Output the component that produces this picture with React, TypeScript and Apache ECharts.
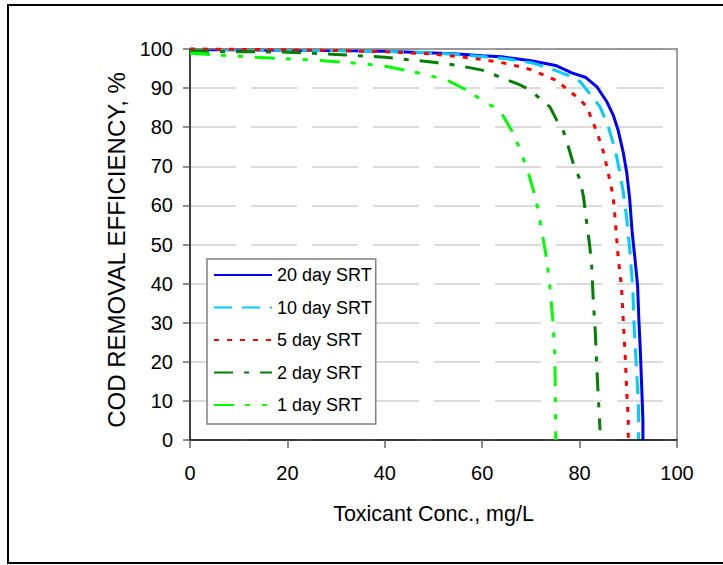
import React, { useEffect, useRef } from "react";
import * as echarts from "echarts";

const seriesNames = ["20 day SRT", "10 day SRT", "5 day SRT", "2 day SRT", "1 day SRT"];

const x20 = [0, 10, 20, 30, 40, 50, 55, 60, 64, 67, 70, 73, 75.3, 78.4, 81.3, 83.5, 85.6, 86.9, 87.9, 89.0, 89.7, 90.3, 90.8, 91.4, 91.9, 92.2, 92.5, 92.8, 93.0, 93.0];
const y20 = [99.8, 99.8, 99.7, 99.6, 99.4, 99.0, 98.7, 98.3, 98.0, 97.5, 97.0, 96.3, 95.7, 93.9, 92.7, 90.4, 86.5, 83.1, 79.3, 73.3, 68.2, 61.4, 53.0, 46.0, 39.6, 30.0, 22.0, 12.0, 5.0, 0];

const x10 = [0, 10, 20, 30, 40, 50, 55, 60, 65, 70.4, 74, 77.4, 80.1, 82.1, 84.2, 85.9, 87.3, 88.3, 89.0, 89.7, 90.3, 90.9, 91.2, 91.7, 92.1, 92.1];
const y10 = [99.9, 99.8, 99.7, 99.6, 99.4, 99.0, 98.6, 98.1, 97.5, 96.4, 95.0, 93.4, 91.7, 88.6, 85.2, 80.1, 74.2, 68.2, 63.1, 56.3, 48.6, 39.2, 29.0, 17.9, 8.5, 0];

const x5 = [0, 10, 20, 30, 40, 50, 55, 60, 65, 69.8, 75, 77.7, 80.1, 81.5, 83.5, 84.9, 85.9, 86.9, 87.4, 87.9, 88.6, 89.0, 89.4, 89.7, 90.0, 90.0];
const y5 = [100, 99.9, 99.8, 99.6, 99.3, 98.7, 98.1, 97.3, 96.3, 94.8, 92.1, 89.5, 87.0, 85.2, 78.9, 73.7, 68.2, 62.2, 55.0, 46.9, 39.2, 29.8, 20.5, 11.9, 5.1, 0];

const x2 = [0, 10, 20, 30, 40, 50, 55, 60, 64.3, 67.8, 69.8, 72.2, 73.9, 75.3, 76.7, 77.7, 78.7, 80.1, 80.8, 81.3, 82.1, 82.5, 82.8, 83.2, 83.5, 83.8, 84.2];
const y2 = [99.5, 99.3, 99.2, 98.6, 97.9, 96.6, 95.8, 94.6, 92.5, 90.8, 89.5, 87.0, 85.2, 81.8, 78.9, 75.0, 70.7, 66.5, 62.2, 57.1, 49.4, 44.3, 35.8, 28.1, 19.6, 11.9, 2.5];

const x1 = [0, 11.6, 18.5, 25, 34.9, 40.4, 47.2, 52.7, 56.8, 60.9, 63.5, 66.4, 67.8, 69.5, 70.5, 71.5, 72.3, 73.2, 73.9, 74.5, 74.9, 75.0, 75.1];
const y1 = [98.9, 98.0, 97.6, 97.2, 96.3, 95.5, 93.8, 92.1, 89.5, 86.1, 84.6, 78.4, 74.2, 68.2, 63.9, 58.8, 53.0, 46.5, 39.2, 30.7, 22.2, 13.7, 0];

const xs = [x20, x10, x5, x2, x1];
const ys = [y20, y10, y5, y2, y1];
const colors = ["#0000ff", "#00ccff", "#ff0000", "#008000", "#00ff00"];
const dashes: any[] = ["solid", [18, 10], [5, 8], [19, 11, 5, 11], [20, 11, 5, 12, 5, 12]];

const FONT = "Liberation Sans, Arial, sans-serif";

export default function App() {
  const ref = useRef<HTMLDivElement>(null);
  useEffect(() => {
    if (!ref.current) return;
    const chart = echarts.init(ref.current, null, { renderer: "svg" });
    const series = seriesNames.map((name, i) => ({
      name,
      type: "line",
      data: xs[i].map((x, j) => [x, ys[i][j]]),
      showSymbol: false,
      symbol: "none",
      smooth: false,
      clip: false,
      lineStyle: { color: colors[i], width: 3, type: dashes[i], cap: "butt" },
      itemStyle: { color: colors[i] },
      z: 3 + i,
    }));
    chart.setOption({
      animation: false,
      backgroundColor: "#ffffff",
      grid: { left: 190, right: 46, top: 49, bottom: 125, containLabel: false },
      graphic: [
        {
          type: "rect",
          shape: { x: 8, y: 5, width: 740, height: 558 },
          style: { fill: "none", stroke: "#000", lineWidth: 2 },
          silent: true,
        },
      ],
      legend: {
        orient: "vertical",
        left: 207,
        top: 259,
        data: seriesNames,
        itemWidth: 58,
        itemHeight: 14,
        itemGap: 14.5,
        padding: [7, 4, 10, 6],
        backgroundColor: "#ffffff",
        borderColor: "#808080",
        borderWidth: 1.5,
        itemStyle: { opacity: 0 },
        textStyle: { fontFamily: FONT, fontSize: 18, color: "#000", lineHeight: 18 },
        z: 10,
      },
      xAxis: [
        {
          type: "value",
          min: 0,
          max: 100,
          interval: 20,
          name: "Toxicant Conc., mg/L",
          nameLocation: "middle",
          nameGap: 63,
          nameTextStyle: { fontFamily: FONT, fontSize: 21.5, color: "#000" },
          axisLine: { show: true, onZero: false, lineStyle: { color: "#000", width: 1.5 } },
          axisTick: { show: true, inside: false, length: 8, lineStyle: { color: "#666", width: 1.5 } },
          axisLabel: { margin: 23, fontFamily: FONT, fontSize: 20, color: "#000" },
          splitLine: { show: false },
          z: 5,
        },
        {
          type: "value",
          position: "top",
          min: 0,
          max: 100,
          interval: 20,
          axisLine: { show: true, onZero: false, lineStyle: { color: "#808080", width: 1.5 } },
          axisTick: { show: false },
          axisLabel: { show: false },
          splitLine: { show: false },
          z: 5,
        },
      ],
      yAxis: [
        {
          type: "value",
          min: 0,
          max: 100,
          interval: 10,
          name: "COD REMOVAL EFFICIENCY, %",
          nameLocation: "middle",
          nameGap: 58,
          nameTextStyle: { fontFamily: FONT, fontSize: 24, color: "#000", padding: [0, 11, 0, 0] },
          axisLine: { show: true, onZero: false, lineStyle: { color: "#000", width: 1.5 } },
          axisTick: { show: true, inside: false, length: 7, lineStyle: { color: "#666", width: 1.5 } },
          axisLabel: { margin: 17, fontFamily: FONT, fontSize: 20, color: "#000" },
          splitLine: { show: true, lineStyle: { color: "#cfcfcf", width: 1.5, type: [46, 15] } },
        },
        {
          type: "value",
          position: "right",
          min: 0,
          max: 100,
          interval: 10,
          axisLine: { show: true, onZero: false, lineStyle: { color: "#808080", width: 1.5 } },
          axisTick: { show: false },
          axisLabel: { show: false },
          splitLine: { show: false },
          z: 5,
        },
      ],
      series,
    });
    return () => chart.dispose();
  }, []);
  return (
    <div
      ref={ref}
      style={{ position: "absolute", left: 0, top: 0, width: 723, height: 565 }}
    />
  );
}
